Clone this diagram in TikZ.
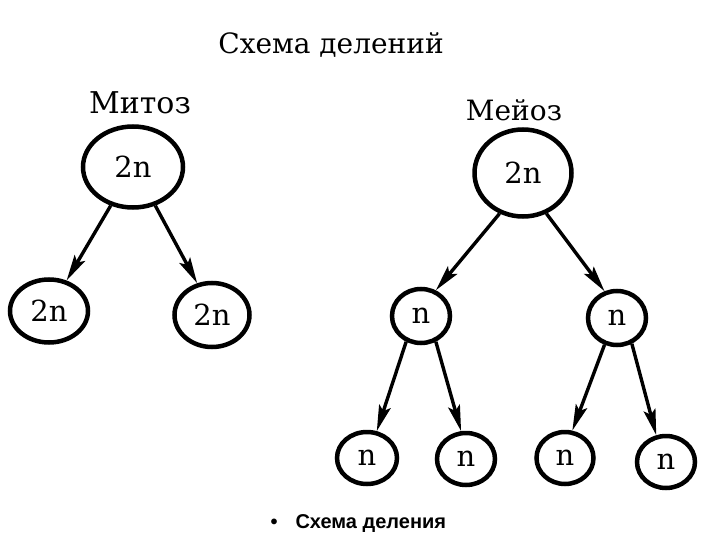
\documentclass[tikz,border=0pt]{standalone}
\usepackage{fontspec}
\setmainfont{DejaVu Serif}
\newfontfamily\capsans{Liberation Sans}
\usetikzlibrary{arrows.meta,shapes.geometric}
\begin{document}
\begin{tikzpicture}[x=1pt,y=-1pt,
  cell/.style={draw,ellipse,line width=4.5pt,inner sep=0pt,font=\fontsize{29}{30}\selectfont},
  arr/.style={line width=3.4pt,-{Stealth[length=26pt,width=12pt,inset=5pt]}},
  lbl/.style={font=\fontsize{27}{30}\selectfont}]
\useasboundingbox (0,0) rectangle (720,540);
\node[lbl,font=\fontsize{28}{32}\selectfont] (title) at (331,45) {Схема делений};
\node[lbl,font=\fontsize{30}{32}\selectfont] (mit) at (140,103) {Митоз};
\node[lbl,font=\fontsize{28}{32}\selectfont] (mei) at (514,110) {Мейоз};
% mitosis
\node[cell,minimum width=100pt,minimum height=81pt] (m0) at (133,167) {2n};
\node[cell,minimum width=78pt,minimum height=63pt] (m1) at (49,311) {2n};
\node[cell,minimum width=75pt,minimum height=64pt] (m2) at (212,315) {2n};
\draw[arr] (m0.240) -- (m1.60);
\draw[arr] (m0.300) -- (m2.115);
% meiosis
\node[cell,minimum width=97pt,minimum height=87pt] (e0) at (523,173) {2n};
\node[cell,minimum width=58pt,minimum height=54pt] (e1) at (421,316) {n};
\node[cell,minimum width=58pt,minimum height=54pt] (e2) at (617,318) {n};
\node[cell,minimum width=60pt,minimum height=52pt] (f1) at (367,458) {n};
\node[cell,minimum width=58pt,minimum height=52pt] (f2) at (466,459) {n};
\node[cell,minimum width=57pt,minimum height=52pt] (f3) at (565,458) {n};
\node[cell,minimum width=58pt,minimum height=52pt] (f4) at (666,462) {n};
\draw[arr] (e0.240) -- (e1.60);
\draw[arr] (e0.300) -- (e2.115);
\draw[arr] (e1.240) -- (f1.70);
\draw[arr] (e1.300) -- (f2.100);
\draw[arr] (e2.245) -- (f3.75);
\draw[arr] (e2.300) -- (f4.110);
\node[font=\capsans\bfseries\fontsize{20}{22}\selectfont,anchor=west] (cap) at (267,524) {\textbullet\hspace{18pt}Схема деления};
\end{tikzpicture}
\end{document}
